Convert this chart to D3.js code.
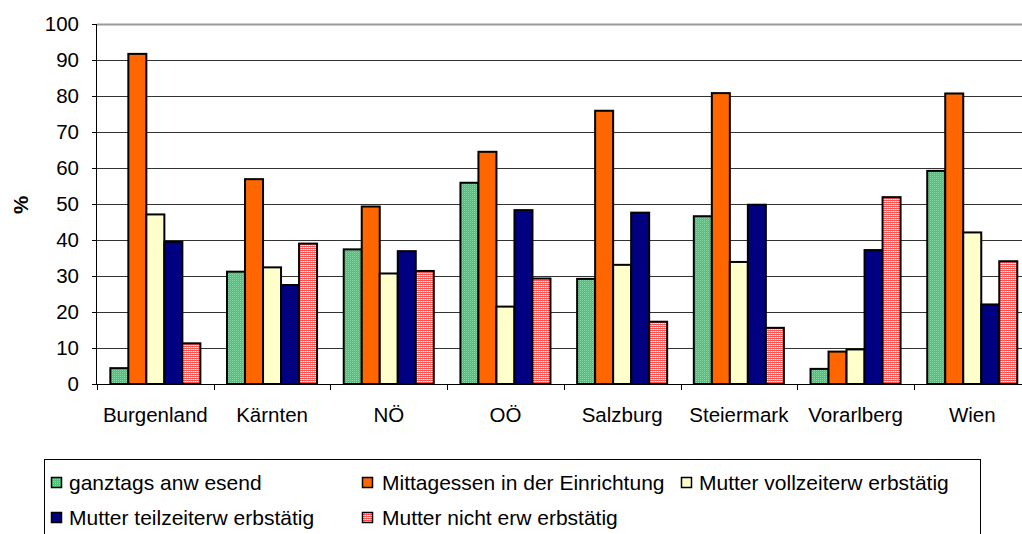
<!DOCTYPE html>
<html><head><meta charset="utf-8">
<script src="https://cdn.jsdelivr.net/npm/d3@7"></script>
<style>body{margin:0;background:#fff}svg{display:block;font-family:Arial,"Liberation Sans",sans-serif}</style>
</head><body>
<svg id="c" width="1022" height="534"></svg>
<script>
const categories = ["Burgenland","Kärnten","NÖ","OÖ","Salzburg","Steiermark","Vorarlberg","Wien"];
const seriesNames = ["ganztags anw esend","Mittagessen in der Einrichtung","Mutter vollzeiterw erbstätig","Mutter teilzeiterw erbstätig","Mutter nicht erw erbstätig"];
const ganztags   = [4.4, 31.2, 37.4, 55.9, 29.2, 46.6, 4.2, 59.2];
const mittag     = [91.7, 56.9, 49.3, 64.5, 75.9, 80.8, 9.0, 80.7];
const vollzeit   = [47.1, 32.4, 30.7, 21.5, 33.1, 33.9, 9.6, 42.1];
const teilzeit   = [39.5, 27.5, 36.9, 48.3, 47.6, 49.8, 37.2, 22.1];
const nichtErw   = [11.3, 39.0, 31.4, 29.3, 17.3, 15.6, 51.9, 34.1];
const yTicks = [0,10,20,30,40,50,60,70,80,90,100];

(function(){
const seriesValues = [ganztags, mittag, vollzeit, teilzeit, nichtErw];
const fills = ["url(#pGreen)","#FF6600","#FFFFCC","#000080","url(#pPink)"];

const svg = d3.select("#c");
const defs = svg.append("defs");
const pg = defs.append("pattern").attr("id","pGreen").attr("width",2).attr("height",2).attr("patternUnits","userSpaceOnUse");
pg.append("rect").attr("width",2).attr("height",2).attr("fill","#33CC66");
pg.append("rect").attr("width",1).attr("height",1).attr("fill","#88DDA8");
pg.append("rect").attr("x",1).attr("y",1).attr("width",1).attr("height",1).attr("fill","#55CC80");
const pp = defs.append("pattern").attr("id","pPink").attr("width",2).attr("height",2).attr("patternUnits","userSpaceOnUse");
pp.append("rect").attr("width",2).attr("height",2).attr("fill","#FF5050");
pp.append("rect").attr("x",1).attr("y",1).attr("width",1).attr("height",1).attr("fill","#FFF4F4");
pp.append("rect").attr("x",0).attr("y",1).attr("width",1).attr("height",1).attr("fill","#FFB0B0");

const pLeft = 97, pTop = 24, pBottom = 384, catW = 116.7;
const x = d3.scaleBand().domain(categories).range([pLeft, pLeft + catW*categories.length]).padding(0);
const xi = d3.scaleBand().domain(d3.range(seriesNames.length)).range([0, x.bandwidth()]).paddingInner(0).paddingOuter(0.74);
const y = d3.scaleLinear().domain([0,100]).range([pBottom, pTop]);

// gridlines
svg.append("g").selectAll("line").data(yTicks.filter(d=>d>0)).join("line")
  .attr("x1", pLeft).attr("x2", 1022).attr("y1", d=>Math.round(y(d))+0.5).attr("y2", d=>Math.round(y(d))+0.5)
  .attr("stroke", d=> d===100 ? "#999" : "#333").attr("stroke-width", d=> d===100 ? 2 : 1);

// bars
const rows = [];
categories.forEach((c,ci)=>seriesValues.forEach((s,si)=>rows.push({c, si, v:s[ci]})));
svg.append("g").selectAll("rect").data(rows).join("rect")
  .attr("x", d=>x(d.c)+xi(d.si)).attr("width", xi.bandwidth())
  .attr("y", d=>y(d.v)).attr("height", d=>y(0)-y(d.v))
  .attr("fill", d=>fills[d.si]).attr("stroke","#000").attr("stroke-width",2);

// y axis
const ya = svg.append("g").attr("transform",`translate(${pLeft},0)`)
  .call(d3.axisLeft(y).tickValues(yTicks).tickSize(5).tickPadding(13));
ya.select(".domain").attr("stroke","#000").attr("d", `M-0.5,${pTop}V${pBottom}`);
ya.selectAll(".tick line").attr("stroke","#000");
ya.selectAll("text").attr("font-size",20.5).attr("fill","#000").attr("font-family","Arial, 'Liberation Sans', sans-serif");

// x axis
const xa = svg.append("g").attr("transform",`translate(0,${pBottom})`);
xa.append("line").attr("x1",pLeft-5).attr("x2",1022).attr("y1",0.5).attr("y2",0.5).attr("stroke","#000");
const bounds = categories.map(c=>x(c)).concat([x(categories[categories.length-1])+x.bandwidth()]);
xa.selectAll("line.t").data(bounds).join("line").attr("class","t")
  .attr("x1",d=>Math.round(d)+0.5).attr("x2",d=>Math.round(d)+0.5).attr("y1",0).attr("y2",6).attr("stroke","#000");
xa.selectAll("text").data(categories).join("text")
  .attr("x", d=>x(d)+x.bandwidth()/2).attr("y", 37.5).attr("text-anchor","middle")
  .attr("font-size",20.5).attr("fill","#000").text(d=>d);

// y label
svg.append("text").attr("transform","translate(28,205) rotate(-90)").attr("text-anchor","middle")
  .attr("font-size",20.5).attr("font-weight","bold").text("%");

// legend
const lg = svg.append("g");
lg.append("rect").attr("x",44.5).attr("y",459.5).attr("width",936).attr("height",120).attr("fill","#fff").attr("stroke","#000");
const legPos = [[51,477],[362,477],[681,477],[51,512],[362,512]];
const li = lg.selectAll("g.item").data(seriesNames).join("g").attr("class","item")
  .attr("transform",(d,i)=>`translate(${legPos[i][0]},${legPos[i][1]})`);
li.append("rect").attr("x",0.5).attr("y",0.5).attr("width",10).attr("height",10)
  .attr("fill",(d,i)=>fills[i]).attr("stroke","#000").attr("stroke-width",1.5);
li.append("text").attr("x",(d,i)=> i===1||i===4 ? 20 : 18).attr("y",12.5).attr("font-size",21).attr("fill","#000").text(d=>d);
})();
</script>
</body></html>
